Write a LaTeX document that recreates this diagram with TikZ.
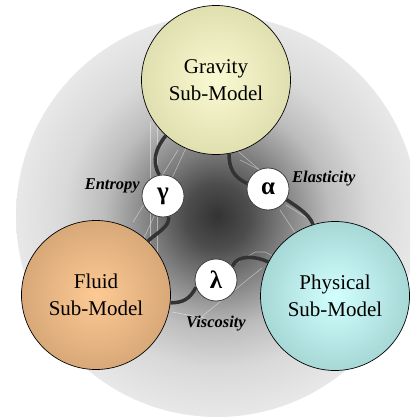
\documentclass[tikz,border=0pt]{standalone}
\usepackage{fontspec}
\setmainfont{Liberation Serif}
\pgfdeclareradialshading{bgshade}{\pgfpoint{0bp}{0bp}}{%
  color(0bp)=(black!80);
  color(4bp)=(black!70);
  color(8bp)=(black!52);
  color(14bp)=(black!26);
  color(19bp)=(black!15);
  color(25bp)=(black!9);
  color(50bp)=(black!9)}
\tikzset{
  model/.style={circle, draw=black, line width=0.7pt, minimum size=149pt, inner sep=0pt,
    shading=radial, align=center, font=\fontsize{21}{27}\selectfont},
  param/.style={circle, draw=black!75, line width=0.8pt, fill=white, minimum size=42pt,
    inner sep=0pt, font=\fontsize{25}{25}\selectfont\bfseries},
  lbl/.style={font=\fontsize{16.5}{18}\selectfont\bfseries\itshape, inner sep=0pt},
  link/.style={line width=3.5pt, draw=black!80},
  faint/.style={draw=white, opacity=0.45, line width=0.6pt}
}
\begin{document}
\begin{tikzpicture}[x=1pt,y=-1pt]
\useasboundingbox (0,0) rectangle (410,419);
\clip (0,0) rectangle (410,419);
\path[shading=bgshade] (217,216) circle[radius=201];
% faint background lines
\draw[faint] (150,122) -- (150,305);
\draw[faint] (157,122) -- (157,300);
\draw[faint] (133,222) -- (178,150);
\draw[faint] (143,240) -- (186,148);
\draw[faint] (232,146) -- (262,172);
\draw[faint] (240,160) -- (270,175);
\draw[faint] (286,205) -- (330,232);
\draw[faint] (280,210) -- (300,240);
\draw[faint] (225,270) -- (255,252) -- (265,252) -- (285,262);
\draw[faint] (195,322) -- (262,268);
\draw[faint] (172,312) -- (205,318);
% model circles
\node[model, inner color={rgb,255:red,250;green,250;blue,210}, outer color={rgb,255:red,224;green,223;blue,176}] (grav) at (216,80) {Gravity\\Sub-Model};
\node[model, inner color={rgb,255:red,253;green,202;blue,148}, outer color={rgb,255:red,216;green,168;blue,120}] (fluid) at (96,295) {Fluid\\Sub-Model};
\node[model, inner color={rgb,255:red,210;green,255;blue,255}, outer color={rgb,255:red,166;green,216;blue,214}] (phys) at (335,296) {Physical\\Sub-Model};
% parameter circles
\node[param] (gam) at (163,196) {γ};
\node[param] (alp) at (268,189) {α};
\node[param] (lam) at (216,280) {λ};
% links
\draw[link] (grav.228) .. controls +(-10,12) and +(-8,-14) .. (gam.100);
\draw[link] (gam.285) .. controls +(2,10) and +(8,-8) .. (fluid.46);
\draw[link] (grav.280) .. controls +(0,14) and +(-14,-6) .. (alp.165);
\draw[link] (alp.330) .. controls +(12,8) and +(-4,-10) .. (phys.107);
\draw[link] (lam.200) .. controls +(-6,12) and +(12,0) .. (fluid.354);
\draw[link] (lam.40) .. controls +(5,-12) and +(-12,-6) .. (phys.153);
% labels
\node[lbl, anchor=base east] (lent) at (140,190) {Entropy};
\node[lbl, anchor=base west] (lela) at (292,183) {Elasticity};
\node[lbl, anchor=base] (lvis) at (216,327) {Viscosity};
\end{tikzpicture}
\end{document}
